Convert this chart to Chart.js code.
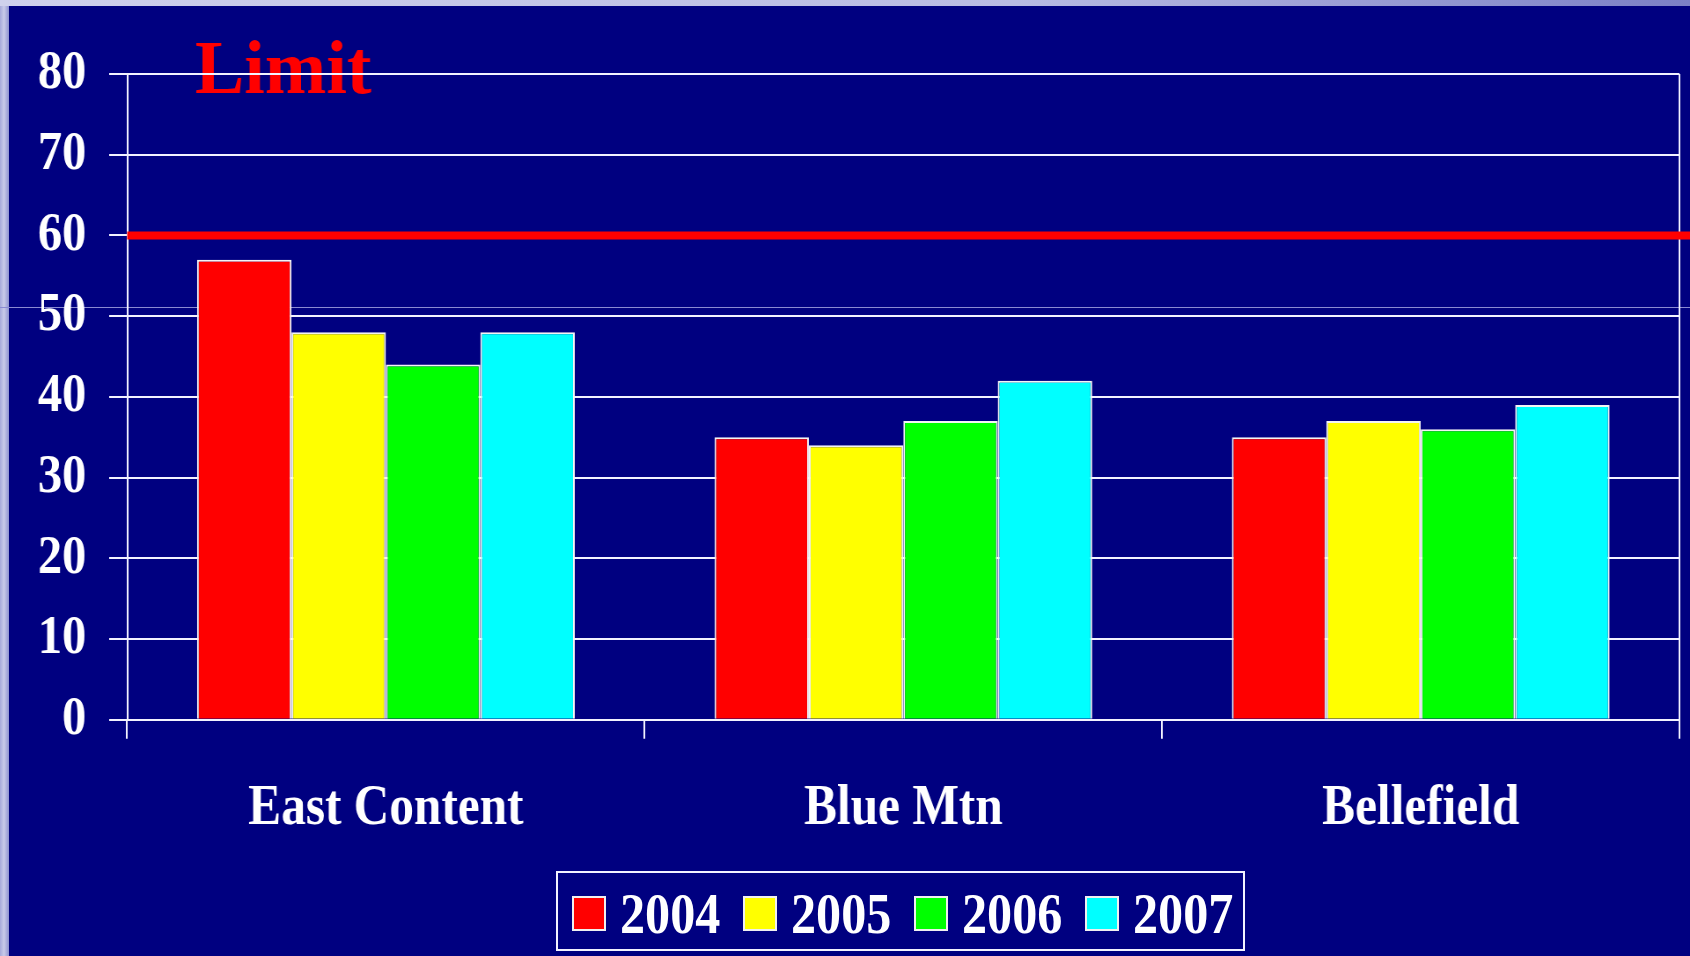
<!DOCTYPE html>
<html>
<head>
<meta charset="utf-8">
<title>Limit</title>
<script src="https://cdn.jsdelivr.net/npm/chart.js@4/dist/chart.umd.min.js"></script>
<style>
  html, body { margin: 0; padding: 0; }
  body {
    width: 1690px; height: 956px; position: relative; overflow: hidden;
    background: linear-gradient(90deg, #a6a9da 0, #c9cbe9 4px, #8e92cf 9px);
  }
  #topStrip {
    position: absolute; left: 0; top: 0; width: 1690px; height: 6px;
    background: linear-gradient(90deg, #cfd1ec 0, #b9bce3 60%, #7b80c6 100%);
  }
  #panel { position: absolute; left: 9px; top: 6px; right: 0; bottom: 0; background: #000080; }
  #rule { position: absolute; left: 0; top: 307px; width: 1690px; height: 1px; background: #8a8ad2; }
  #chart { position: absolute; left: 0; top: 0; width: 1690px; height: 956px; }
  #legend {
    position: absolute; left: 556px; top: 871px; width: 689px; height: 80px;
    box-sizing: border-box; border: 2px solid #f2f2ff;
    display: flex; align-items: center; padding: 5px 0 0 14px;
    font: bold 57px "Liberation Serif", "Times New Roman", serif; color: #fff;
  }
  #legend .item { display: flex; align-items: center; margin-right: 24px; }
  #legend .swatch { width: 34px; height: 35px; box-sizing: border-box; border: 2px solid #f0f0f0; margin-right: 14px; }
  #legend .lbl { display: inline-block; width: 99px; line-height: 1; white-space: nowrap; }
  #legend .lbl span { display: inline-block; transform: scaleX(0.88); transform-origin: 0 50%; }
</style>
</head>
<body>
<div id="topStrip"></div>
<div id="panel"></div>
<div id="rule"></div>
<!-- drawn 1920 wide and shown 1690 wide: the slide's type is horizontally condensed -->
<canvas id="chart" width="1920" height="956" style="width:1690px;height:956px;"></canvas>
<div id="legend"></div>
<script>
const categories = ['East Content', 'Blue Mtn', 'Bellefield'];
const years = ['2004', '2005', '2006', '2007'];
const values2004 = [57, 35, 35];
const values2005 = [48, 34, 37];
const values2006 = [44, 37, 36];
const values2007 = [48, 42, 39];
const yTickValues = [0, 10, 20, 30, 40, 50, 60, 70, 80];
const limitValue = 60;
const limitLabel = 'Limit';

(function () {
  const gridColour = '#f2f2ff';
  const serif = '"Liberation Serif", "Times New Roman", serif';

  function initCharts() {
    if (typeof Chart === 'undefined') return;
    Chart.defaults.font.family = serif;
    Chart.defaults.font.weight = 'bold';

    // Red limit line plus its label, and the right edge of the plot frame
    const limitPlugin = {
      id: 'limitLine',
      beforeDraw(chart) {
        const { ctx, chartArea } = chart;
        ctx.save();
        ctx.fillStyle = '#ff0000';
        ctx.font = 'bold 77px ' + serif;
        ctx.textBaseline = 'alphabetic';
        ctx.translate(chartArea.left + 77, chartArea.top + 19);
        ctx.scale(1.09, 1);
        ctx.fillText(limitLabel, 0, 0);
        ctx.restore();
      },
      beforeDatasetsDraw(chart) {
        const { ctx, chartArea } = chart;
        ctx.save();
        ctx.strokeStyle = gridColour;
        ctx.lineWidth = 2;
        ctx.beginPath();
        ctx.moveTo(chartArea.right, chartArea.top);
        ctx.lineTo(chartArea.right, chartArea.bottom);
        ctx.stroke();
        ctx.restore();
      },
      afterDatasetsDraw(chart) {
        const { ctx, chartArea, scales } = chart;
        const y = scales.y.getPixelForValue(limitValue);
        ctx.save();
        ctx.strokeStyle = '#ff0000';
        ctx.lineWidth = 8;
        ctx.beginPath();
        ctx.moveTo(chartArea.left, y);
        ctx.lineTo(chart.width, y);
        ctx.stroke();
        ctx.restore();
      }
    };

    const colours = ['#ff0000', '#ffff00', '#00ff00', '#00ffff'];
    const series = [values2004, values2005, values2006, values2007];

    const canvas = document.getElementById('chart');
    const chart = new Chart(canvas.getContext('2d'), {
      type: 'bar',
      data: {
        labels: categories,
        datasets: years.map(function (year, i) {
          return {
            label: year,
            data: series[i],
            backgroundColor: colours[i],
            borderColor: '#f4f4f4',
            borderWidth: 2,
            categoryPercentage: 0.73,
            barPercentage: 1.0
          };
        })
      },
      options: {
        responsive: false,
        devicePixelRatio: 1,
        animation: false,
        layout: { padding: { left: 17, right: 12, top: 74, bottom: 76 } },
        plugins: {
          legend: { display: false },
          tooltip: { enabled: false }
        },
        scales: {
          x: {
            ticks: { color: '#ffffff', font: { size: 56, weight: 'bold' }, padding: 37 },
            grid: { drawOnChartArea: false, color: gridColour, lineWidth: 2, tickLength: 19, offset: true },
            border: { color: gridColour, width: 2 }
          },
          y: {
            min: yTickValues[0],
            max: yTickValues[yTickValues.length - 1],
            afterBuildTicks: function (scale) {
              scale.ticks = yTickValues.map(function (v) { return { value: v }; });
            },
            ticks: { color: '#ffffff', font: { size: 55, weight: 'bold' }, padding: 26 },
            grid: { color: gridColour, lineWidth: 2, tickLength: 20.5 },
            border: { color: gridColour, width: 2 }
          }
        }
      },
      plugins: [limitPlugin]
    });

    // Boxed legend under the chart, built from the datasets
    const legend = document.getElementById('legend');
    chart.data.datasets.forEach(function (ds) {
      const item = document.createElement('div');
      item.className = 'item';
      const sw = document.createElement('div');
      sw.className = 'swatch';
      sw.style.background = ds.backgroundColor;
      const lbl = document.createElement('div');
      lbl.className = 'lbl';
      const txt = document.createElement('span');
      txt.textContent = ds.label;
      lbl.appendChild(txt);
      item.appendChild(sw);
      item.appendChild(lbl);
      legend.appendChild(item);
    });
  }

  if (document.readyState === 'loading') {
    document.addEventListener('DOMContentLoaded', initCharts);
  } else {
    initCharts();
  }
})();
</script>
</body>
</html>
